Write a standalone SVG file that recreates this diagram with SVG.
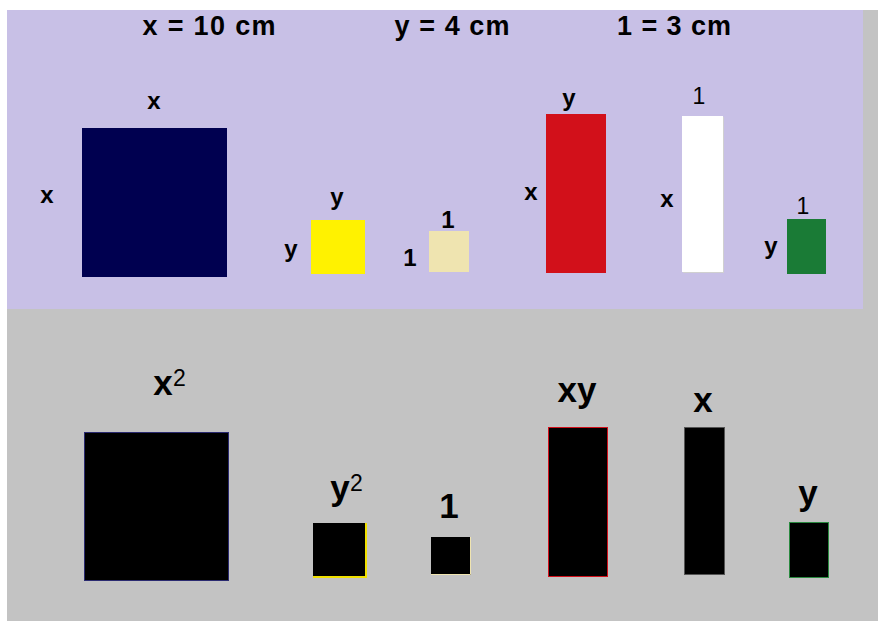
<svg xmlns="http://www.w3.org/2000/svg" width="878" height="624" viewBox="0 0 878 624">
<style>
text{font-family:"Liberation Sans",Arial,sans-serif;fill:#000;text-anchor:middle}
.h{font-size:27px;font-weight:bold}
.s{font-size:24px;font-weight:bold}
.n{font-size:23px;font-weight:normal}
.b{font-size:35px;font-weight:bold}
.sup{font-size:23px;font-weight:normal;text-anchor:start}
</style>
<rect x="0" y="0" width="878" height="624" fill="#ffffff"/>
<rect x="7" y="10" width="871" height="611" fill="#c3c3c3"/>
<rect x="7" y="10" width="856" height="299" fill="#c8c0e6"/>
<g id="header">
<text class="h" x="209" y="35" textLength="133" lengthAdjust="spacing">x = 10 cm</text>
<text class="h" x="452" y="35" textLength="115" lengthAdjust="spacing">y = 4 cm</text>
<text class="h" x="674" y="35" textLength="114" lengthAdjust="spacing">1 = 3 cm</text>
</g>
<g id="tile-x2">
<rect x="82" y="128" width="145" height="149" fill="#000050"/>
<text class="s" x="154" y="109">x</text>
<text class="s" x="47" y="203">x</text>
</g>
<g id="tile-y2">
<rect x="311" y="220" width="54" height="54" fill="#fff200"/>
<text class="s" x="337" y="205">y</text>
<text class="s" x="291" y="257">y</text>
</g>
<g id="tile-1">
<rect x="429" y="231" width="40" height="41" fill="#efe4b0"/>
<text class="s" x="448" y="228">1</text>
<text class="s" x="410" y="266">1</text>
</g>
<g id="tile-xy">
<rect x="546" y="114" width="60" height="159" fill="#d2101a"/>
<text class="s" x="569" y="106">y</text>
<text class="s" x="531" y="200">x</text>
</g>
<g id="tile-x">
<rect x="683" y="117" width="41" height="156" fill="#d0d0d0"/>
<rect x="682" y="116" width="41" height="156" fill="#ffffff"/>
<text class="n" x="699" y="104">1</text>
<text class="s" x="667" y="207">x</text>
</g>
<g id="tile-y">
<rect x="787" y="219" width="39" height="55" fill="#1a7b36"/>
<text class="n" x="803" y="214">1</text>
<text class="s" x="771" y="254">y</text>
</g>
<g id="area-x2">
<rect x="84.5" y="432.5" width="144" height="148" fill="#000" stroke="#2a2a70" stroke-width="1"/>
<text class="b" x="163" y="395">x</text>
<text class="sup" x="173" y="386">2</text>
</g>
<g id="area-y2">
<rect x="313" y="523" width="54" height="54" fill="#000"/>
<path d="M366 523 V577 H313" fill="none" stroke="#f0e000" stroke-width="2"/>
<text class="b" x="340" y="500">y</text>
<text class="sup" x="350" y="491">2</text>
</g>
<g id="area-1">
<rect x="431" y="537" width="40" height="38" fill="#000"/>
<path d="M470.5 537 V574.5 H431" fill="none" stroke="#efe4b0" stroke-width="1"/>
<text class="b" x="449" y="518">1</text>
</g>
<g id="area-xy">
<rect x="548.5" y="427.5" width="59" height="149" fill="#000" stroke="#d2101a" stroke-width="1"/>
<text class="b" x="577" y="402">xy</text>
</g>
<g id="area-x">
<rect x="684.5" y="427.5" width="40" height="147" fill="#000" stroke="#555" stroke-width="1"/>
<text class="b" x="703" y="412">x</text>
</g>
<g id="area-y">
<rect x="789.5" y="522.5" width="39" height="55" fill="#000" stroke="#2a8a40" stroke-width="1"/>
<text class="b" x="808" y="505">y</text>
</g>
<g id="connectors"></g>
</svg>
